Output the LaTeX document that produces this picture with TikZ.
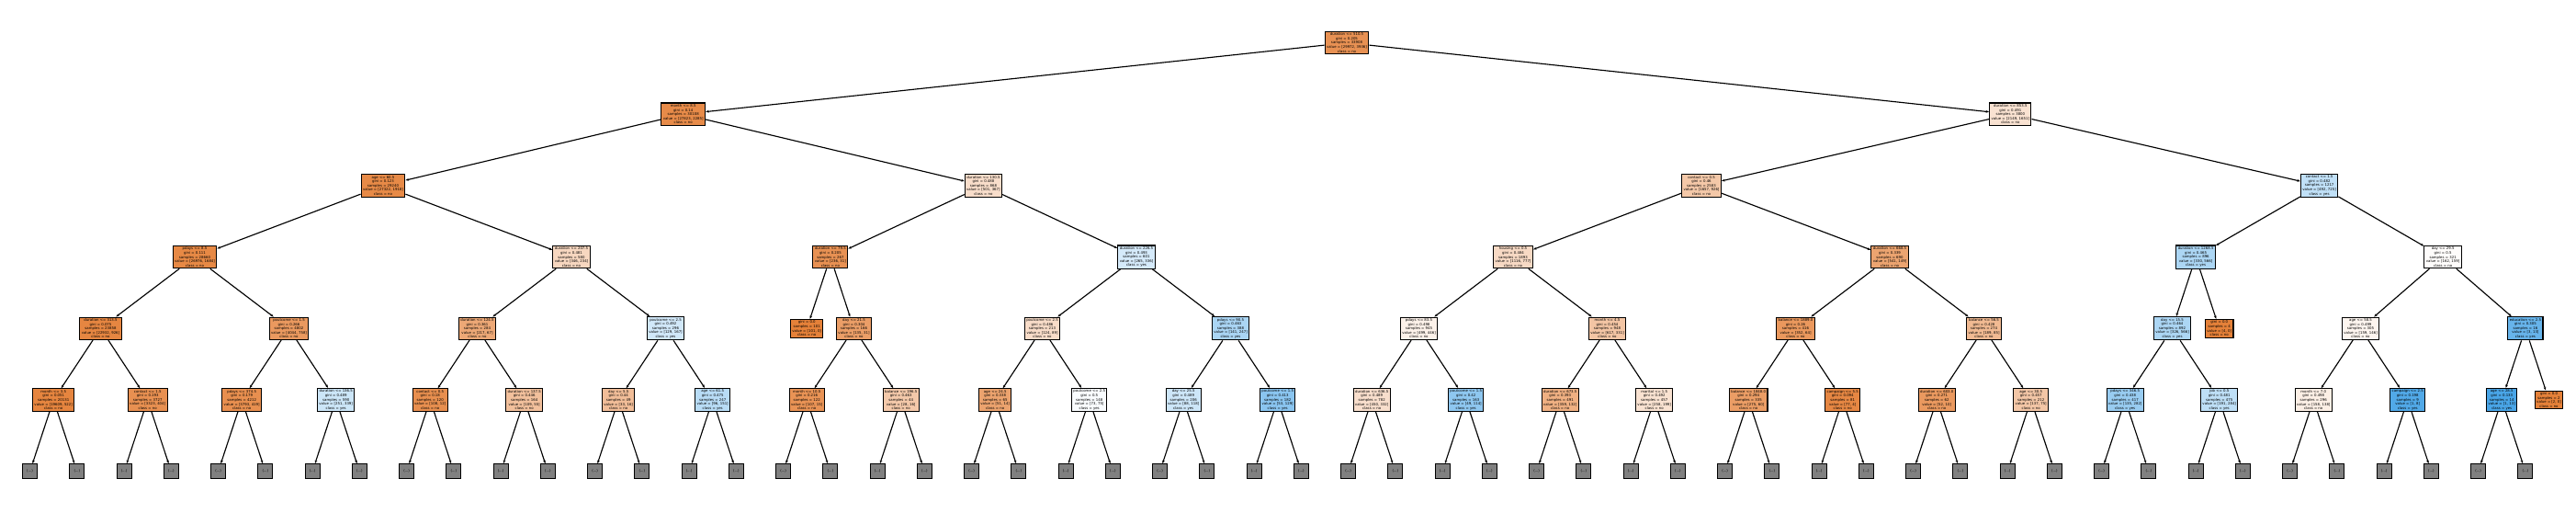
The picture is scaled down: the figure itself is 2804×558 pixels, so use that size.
\documentclass[tikz,border=0pt]{standalone}
\usepackage{fontspec}
\setmainfont{DejaVu Sans}
\usetikzlibrary{arrows.meta}
\definecolor{org}{RGB}{229, 129, 57}
\definecolor{blu}{RGB}{57, 157, 229}
\definecolor{more}{RGB}{128, 128, 128}

\begin{document}
\begin{tikzpicture}[x=0.2mm, y=-0.2mm,
    tn/.style={draw, line width=0.6pt, align=center, inner xsep=1.1pt, inner ysep=0.9pt,
      font=\fontsize{2.2}{2.6}\selectfont},
    trunc/.style={draw, line width=0.6pt, fill=more, minimum size=3.2mm, inner sep=0pt,
      font=\fontsize{2.2}{2.6}\selectfont},
    link/.style={-{Stealth[length=2pt, width=1.5pt]}, line width=0.65pt}]
      \useasboundingbox (0,0) rectangle (2804,558);

      % Depth 0 and 1
      \node[tn, fill=org!87] (root) at (1466.0, 46.5) {duration <= 510.5\\gini = 0.205\\samples = 33908\\value = [29972, 3936]\\class = no};
      \node[tn, fill=org!92] (d0) at (743.7, 124.2) {month <= 8.5\\gini = 0.14\\samples = 30108\\value = [27823, 2285]\\class = no};
      \node[tn, fill=org!23] (d1) at (2188.3, 124.2) {duration <= 853.5\\gini = 0.491\\samples = 3800\\value = [2149, 1651]\\class = no};

      % Depth 2
      \node[tn, fill=org!93] (c0) at (417.0, 201.9) {age <= 60.5\\gini = 0.123\\samples = 29240\\value = [27322, 1918]\\class = no};
      \node[tn, fill=org!27] (c1) at (1070.4, 201.9) {duration <= 130.5\\gini = 0.488\\samples = 868\\value = [501, 367]\\class = no};
      \node[tn, fill=org!44] (c2) at (1852.0, 201.9) {contact <= 0.5\\gini = 0.46\\samples = 2583\\value = [1657, 926]\\class = no};
      \node[tn, fill=blu!32] (c3) at (2524.6, 201.9) {contact <= 1.5\\gini = 0.482\\samples = 1217\\value = [492, 725]\\class = yes};

      % Depth 3
      \node[tn, fill=org!94] (b0) at (212.0, 279.6) {pdays <= 8.5\\gini = 0.111\\samples = 28660\\value = [26976, 1684]\\class = no};
      \node[tn, fill=org!32] (b1) at (622.0, 279.6) {duration <= 207.5\\gini = 0.481\\samples = 580\\value = [346, 234]\\class = no};
      \node[tn, fill=org!87] (b2) at (903.9, 279.6) {duration <= 79.5\\gini = 0.205\\samples = 267\\value = [236, 31]\\class = no};
      \node[tn, fill=blu!21] (b3) at (1237.0, 279.6) {duration <= 226.5\\gini = 0.493\\samples = 601\\value = [265, 336]\\class = yes};
      \node[tn, fill=org!30] (b4) at (1647.0, 279.6) {housing <= 0.5\\gini = 0.484\\samples = 1893\\value = [1116, 777]\\class = no};
      \node[tn, fill=org!72] (b5) at (2057.0, 279.6) {duration <= 668.5\\gini = 0.339\\samples = 690\\value = [541, 149]\\class = no};
      \node[tn, fill=blu!42] (b6) at (2390.1, 279.6) {duration <= 1268.5\\gini = 0.465\\samples = 896\\value = [330, 566]\\class = yes};
      \node[tn, fill=org!2] (b7) at (2659.1, 279.6) {day <= 29.5\\gini = 0.5\\samples = 321\\value = [162, 159]\\class = no};

      % Depth 4
      \node[tn, fill=org!96] (a0) at (109.5, 357.3) {duration <= 313.5\\gini = 0.075\\samples = 23858\\value = [22932, 926]\\class = no};
      \node[tn, fill=org!81] (a1) at (314.5, 357.3) {poutcome <= 1.5\\gini = 0.266\\samples = 4802\\value = [4044, 758]\\class = no};
      \node[tn, fill=org!69] (a2) at (519.5, 357.3) {duration <= 124.5\\gini = 0.361\\samples = 284\\value = [217, 67]\\class = no};
      \node[tn, fill=blu!23] (a3) at (724.5, 357.3) {poutcome <= 2.5\\gini = 0.492\\samples = 296\\value = [129, 167]\\class = yes};
      \node[tn, fill=org] (l1) at (878.2, 357.3) {gini = 0.0\\samples = 101\\value = [101, 0]\\class = no};
      \node[tn, fill=org!77] (a4) at (929.5, 357.3) {day <= 21.5\\gini = 0.304\\samples = 166\\value = [135, 31]\\class = no};
      \node[tn, fill=org!28] (a5) at (1134.5, 357.3) {poutcome <= 2.5\\gini = 0.486\\samples = 213\\value = [124, 89]\\class = no};
      \node[tn, fill=blu!43] (a6) at (1339.5, 357.3) {pdays <= 90.5\\gini = 0.463\\samples = 388\\value = [141, 247]\\class = yes};
      \node[tn, fill=org!11] (a7) at (1544.5, 357.3) {pdays <= 83.5\\gini = 0.498\\samples = 945\\value = [499, 446]\\class = no};
      \node[tn, fill=org!46] (a8) at (1749.5, 357.3) {month <= 4.5\\gini = 0.454\\samples = 948\\value = [617, 331]\\class = no};
      \node[tn, fill=org!82] (a9) at (1954.5, 357.3) {balance <= 1889.0\\gini = 0.26\\samples = 416\\value = [352, 64]\\class = no};
      \node[tn, fill=org!55] (a10) at (2159.5, 357.3) {balance <= 56.5\\gini = 0.428\\samples = 274\\value = [189, 85]\\class = no};
      \node[tn, fill=blu!42] (a11) at (2364.5, 357.3) {day <= 15.5\\gini = 0.464\\samples = 892\\value = [326, 566]\\class = yes};
      \node[tn, fill=org] (l2) at (2415.7, 357.3) {gini = 0.0\\samples = 4\\value = [4, 0]\\class = no};
      \node[tn, fill=org!8] (a12) at (2569.5, 357.3) {age <= 58.5\\gini = 0.499\\samples = 305\\value = [159, 146]\\class = no};
      \node[tn, fill=blu!77] (a13) at (2748.9, 357.3) {education <= 2.5\\gini = 0.305\\samples = 16\\value = [3, 13]\\class = yes};

      % Depth 5
      \node[tn, fill=org!97] (r0) at (58.2, 435) {month <= 3.5\\gini = 0.051\\samples = 20131\\value = [19609, 522]\\class = no};
      \node[tn, fill=org!88] (r1) at (160.7, 435) {contact <= 1.5\\gini = 0.193\\samples = 3727\\value = [3323, 404]\\class = no};
      \node[tn, fill=org!89] (r2) at (263.2, 435) {pdays <= 374.5\\gini = 0.179\\samples = 4212\\value = [3793, 419]\\class = no};
      \node[tn, fill=blu!26] (r3) at (365.7, 435) {duration <= 136.5\\gini = 0.489\\samples = 590\\value = [251, 339]\\class = yes};
      \node[tn, fill=org!89] (r4) at (468.2, 435) {contact <= 0.5\\gini = 0.18\\samples = 120\\value = [108, 12]\\class = no};
      \node[tn, fill=org!50] (r5) at (570.7, 435) {duration <= 137.5\\gini = 0.446\\samples = 164\\value = [109, 55]\\class = no};
      \node[tn, fill=org!52] (r6) at (673.2, 435) {day <= 5.5\\gini = 0.44\\samples = 49\\value = [33, 16]\\class = no};
      \node[tn, fill=blu!36] (r7) at (775.7, 435) {age <= 61.5\\gini = 0.475\\samples = 247\\value = [96, 151]\\class = yes};
      \node[tn, fill=org!86] (r8) at (878.2, 435) {month <= 10.5\\gini = 0.216\\samples = 122\\value = [107, 15]\\class = no};
      \node[tn, fill=org!43] (r9) at (980.7, 435) {balance <= 196.5\\gini = 0.463\\samples = 44\\value = [28, 16]\\class = no};
      \node[tn, fill=org!73] (r10) at (1083.2, 435) {age <= 24.5\\gini = 0.338\\samples = 65\\value = [51, 14]\\class = no};
      \node[tn, fill=blu!3] (r11) at (1185.7, 435) {poutcome <= 2.5\\gini = 0.5\\samples = 148\\value = [73, 75]\\class = yes};
      \node[tn, fill=blu!25] (r12) at (1288.2, 435) {day <= 25.5\\gini = 0.489\\samples = 206\\value = [88, 118]\\class = yes};
      \node[tn, fill=blu!59] (r13) at (1390.7, 435) {poutcome <= 1.5\\gini = 0.413\\samples = 182\\value = [53, 129]\\class = yes};
      \node[tn, fill=org!26] (r14) at (1493.2, 435) {duration <= 636.5\\gini = 0.489\\samples = 782\\value = [450, 332]\\class = no};
      \node[tn, fill=blu!57] (r15) at (1595.7, 435) {poutcome <= 1.5\\gini = 0.42\\samples = 163\\value = [49, 114]\\class = yes};
      \node[tn, fill=org!63] (r16) at (1698.2, 435) {duration <= 673.5\\gini = 0.393\\samples = 491\\value = [359, 132]\\class = no};
      \node[tn, fill=org!23] (r17) at (1800.7, 435) {marital <= 1.5\\gini = 0.492\\samples = 457\\value = [258, 199]\\class = no};
      \node[tn, fill=org!78] (r18) at (1903.2, 435) {balance <= 1848.0\\gini = 0.294\\samples = 335\\value = [275, 60]\\class = no};
      \node[tn, fill=org!95] (r19) at (2005.7, 435) {campaign <= 5.5\\gini = 0.094\\samples = 81\\value = [77, 4]\\class = no};
      \node[tn, fill=org!81] (r20) at (2108.2, 435) {duration <= 603.0\\gini = 0.271\\samples = 62\\value = [52, 10]\\class = no};
      \node[tn, fill=org!45] (r21) at (2210.7, 435) {age <= 30.5\\gini = 0.457\\samples = 212\\value = [137, 75]\\class = no};
      \node[tn, fill=blu!52] (r22) at (2313.2, 435) {pdays <= 346.5\\gini = 0.438\\samples = 417\\value = [135, 282]\\class = yes};
      \node[tn, fill=blu!33] (r23) at (2415.7, 435) {job <= 0.5\\gini = 0.481\\samples = 475\\value = [191, 284]\\class = yes};
      \node[tn, fill=org!13] (r24) at (2518.2, 435) {month <= 7.0\\gini = 0.498\\samples = 296\\value = [158, 138]\\class = no};
      \node[tn, fill=blu!88] (r25) at (2620.7, 435) {campaign <= 2.5\\gini = 0.198\\samples = 9\\value = [1, 8]\\class = yes};
      \node[tn, fill=blu!92] (r26) at (2723.2, 435) {age <= 28.5\\gini = 0.133\\samples = 14\\value = [1, 13]\\class = yes};
      \node[tn, fill=org] (r27) at (2774.5, 435) {gini = 0.0\\samples = 2\\value = [2, 0]\\class = no};

      % Splits
      \draw[link] (root) -- (d0);
      \draw[link] (root) -- (d1);
      \draw[link] (d0) -- (c0);
      \draw[link] (d0) -- (c1);
      \draw[link] (d1) -- (c2);
      \draw[link] (d1) -- (c3);
      \draw[link] (c0) -- (b0);
      \draw[link] (c0) -- (b1);
      \draw[link] (c1) -- (b2);
      \draw[link] (c1) -- (b3);
      \draw[link] (c2) -- (b4);
      \draw[link] (c2) -- (b5);
      \draw[link] (c3) -- (b6);
      \draw[link] (c3) -- (b7);
      \draw[link] (b0) -- (a0);
      \draw[link] (b0) -- (a1);
      \draw[link] (b1) -- (a2);
      \draw[link] (b1) -- (a3);
      \draw[link] (b2) -- (l1);
      \draw[link] (b2) -- (a4);
      \draw[link] (b3) -- (a5);
      \draw[link] (b3) -- (a6);
      \draw[link] (b4) -- (a7);
      \draw[link] (b4) -- (a8);
      \draw[link] (b5) -- (a9);
      \draw[link] (b5) -- (a10);
      \draw[link] (b6) -- (a11);
      \draw[link] (b6) -- (l2);
      \draw[link] (b7) -- (a12);
      \draw[link] (b7) -- (a13);
      \foreach \p/\i/\j in {a0/r0/r1, a1/r2/r3, a2/r4/r5, a3/r6/r7, a4/r8/r9, a5/r10/r11, a6/r12/r13,
        a7/r14/r15, a8/r16/r17, a9/r18/r19, a10/r20/r21, a11/r22/r23, a12/r24/r25, a13/r26/r27} {
        \draw[link] (\p) -- (\i);
        \draw[link] (\p) -- (\j);
      }

      % Truncated branches
      \foreach \i in {0,...,26} {
        \pgfmathsetmacro\xa{32.6+102.5*\i}
        \pgfmathsetmacro\xb{\xa+51.25}
        \node[trunc] (ga\i) at (\xa, 512.7) {(...)};
        \node[trunc] (gb\i) at (\xb, 512.7) {(...)};
        \draw[link] (r\i) -- (ga\i);
        \draw[link] (r\i) -- (gb\i);
      }
    \end{tikzpicture}
\end{document}
